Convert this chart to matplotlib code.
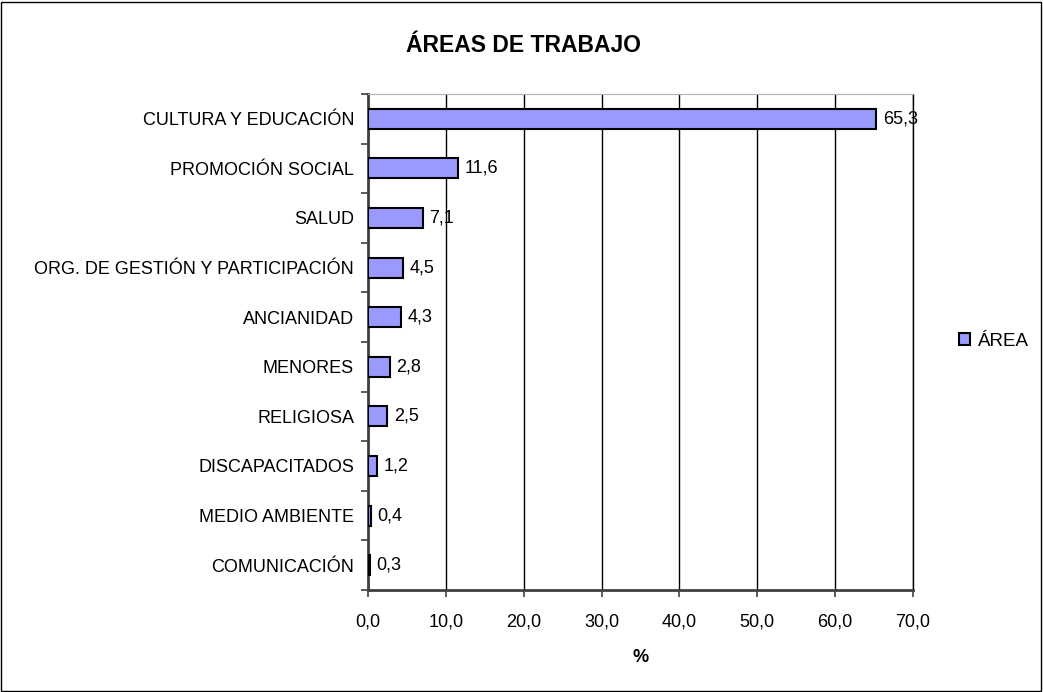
import matplotlib.pyplot as plt
from matplotlib.patches import Patch, Rectangle

plt.rcParams['font.family'] = ['Liberation Sans', 'DejaVu Sans']

categories = ['CULTURA Y EDUCACIÓN', 'PROMOCIÓN SOCIAL', 'SALUD',
              'ORG. DE GESTIÓN Y PARTICIPACIÓN', 'ANCIANIDAD', 'MENORES',
              'RELIGIOSA', 'DISCAPACITADOS', 'MEDIO AMBIENTE', 'COMUNICACIÓN']
values = [65.3, 11.6, 7.1, 4.5, 4.3, 2.8, 2.5, 1.2, 0.4, 0.3]
xticks = [0, 10, 20, 30, 40, 50, 60, 70]

fs = 13
fig = plt.figure(figsize=(10.43, 6.92), dpi=100)
ax = fig.add_axes([368 / 1043, 102 / 692, 545 / 1043, 496 / 692])

ypos = list(range(len(categories)))[::-1]
bar_color = '#9999FF'
ax.barh(ypos, values, height=0.4, color=bar_color, edgecolor='black',
        linewidth=1.5, zorder=3)

for y, v in zip(ypos, values):
    ax.annotate(f'{v:.1f}'.replace('.', ','), (v, y), xytext=(4.5, 0),
                textcoords='offset points', va='center', ha='left',
                fontsize=fs)

ax.set_xlim(0, 70)
ax.set_ylim(-0.5, len(categories) - 0.5)
ax.set_xticks(xticks)
ax.set_xticklabels([f'{t:.1f}'.replace('.', ',') for t in xticks], fontsize=fs)
ax.set_yticks(ypos)
ax.set_yticklabels(categories, fontsize=fs)
ax.tick_params(axis='y', length=0, pad=10)
ax.set_yticks([i - 0.5 for i in range(len(categories) + 1)], minor=True)
ax.tick_params(axis='y', which='minor', length=5, color='#404040', width=1.2)
ax.tick_params(axis='x', length=5, color='#404040', width=1.2, pad=12)

ax.grid(axis='x', color='black', linewidth=1, zorder=0)
for s in ['left', 'bottom']:
    ax.spines[s].set_color('#404040')
    ax.spines[s].set_linewidth(2)
ax.spines['top'].set_color('#b0b0b0')
ax.spines['right'].set_color('black')
ax.spines['right'].set_linewidth(1)

fig.text(641 / 1043, 1 - 658 / 692, '%', ha='center', va='center',
         fontsize=fs, fontweight='bold')
fig.text(524 / 1043, 1 - 45 / 692, 'ÁREAS DE TRABAJO', ha='center', va='center',
         fontsize=16.5, fontweight='bold')

fig.legend(handles=[Patch(facecolor=bar_color, edgecolor='black', linewidth=1.5)],
           labels=['ÁREA'], loc='center left', bbox_to_anchor=(959 / 1043, 1 - 341 / 692),
           frameon=False, fontsize=13.5, handlelength=0.6, handleheight=0.6,
           handletextpad=0.4, borderpad=0, borderaxespad=0)

fig.add_artist(Rectangle((1 / 1043, 1 / 692), 1040 / 1043, 689 / 692,
                         transform=fig.transFigure, fill=False,
                         edgecolor='black', linewidth=1))

fig.savefig('out.png', dpi=100)
